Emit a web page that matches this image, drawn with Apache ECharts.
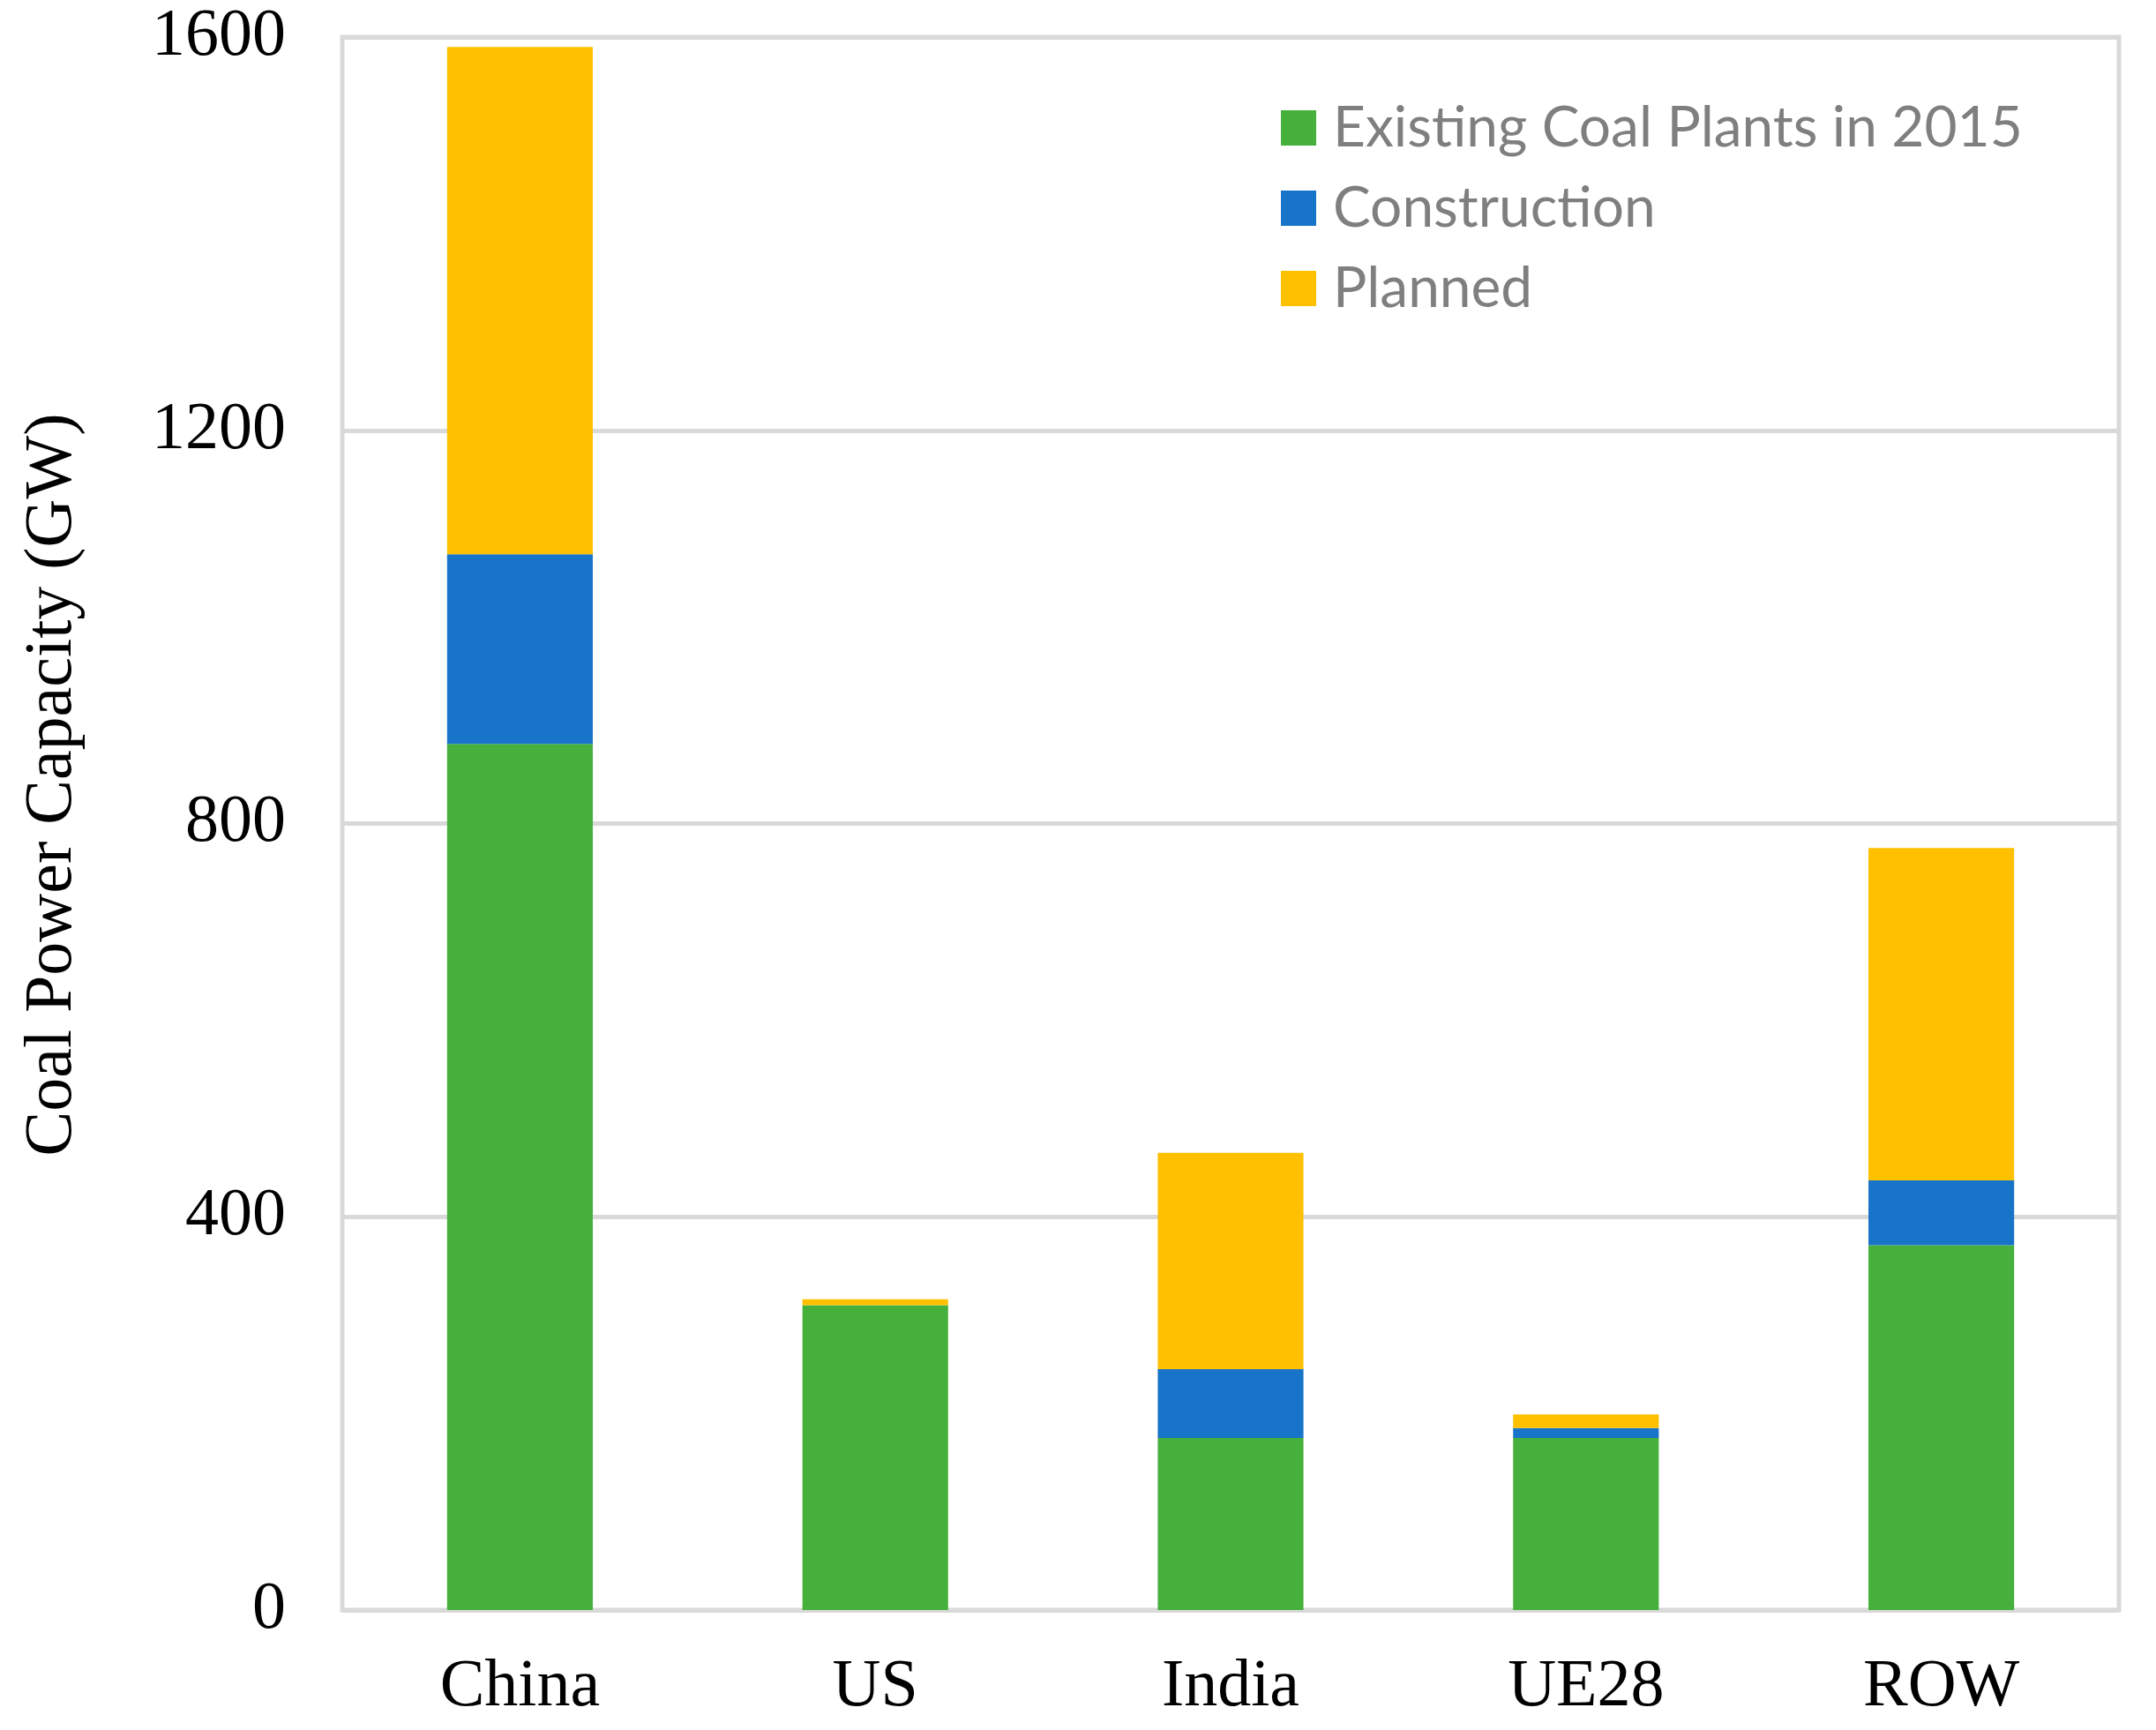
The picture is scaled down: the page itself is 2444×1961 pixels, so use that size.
<!DOCTYPE html>
<html>
<head>
<meta charset="utf-8">
<title>Coal Power Capacity</title>
<script src="https://cdn.jsdelivr.net/npm/echarts@6/dist/echarts.min.js"></script>
<style>
    html,body{margin:0;padding:0;background:#fff;}
    #chart{width:2444px;height:1961px;}
</style>
</head>
<body>
<div id="chart"></div>
<script>
    /*数据*/
    var regions = ['China', 'US', 'India', 'UE28', 'ROW'];
    var existing = [881, 310, 175, 175, 371];
    var construction = [193, 0, 70, 10, 66];
    var planned = [516, 6, 220, 14, 338];
    var yTicks = [0, 400, 800, 1200, 1600];

    var serif = 'Liberation Serif, Times New Roman, serif';
    var gridColor = '#d9d9d9';

    var chart = echarts.init(document.getElementById('chart'));
    var option = {
        backgroundColor: '#fff',
        animation: false,
        grid: {
            left: 388,
            right: 42,
            top: 42,
            bottom: 136,
            show: true,
            borderColor: gridColor,
            borderWidth: 5
        },
        legend: {
            orient: 'vertical',
            left: 1447,
            top: 108,
            itemWidth: 40,
            itemHeight: 40,
            itemGap: 27,
            icon: 'rect',
            data: ['Existing Coal Plants in 2015', 'Construction', 'Planned'],
            textStyle: {
                fontFamily: 'Lato, Open Sans, sans-serif',
                fontSize: 64,
                color: '#7f7f7f',
                lineHeight: 62,
                padding: [0, 0, 0, 14]
            }
        },
        xAxis: {
            type: 'category',
            data: regions,
            axisLine: {show: false},
            axisTick: {show: false},
            axisLabel: {
                fontFamily: serif,
                fontSize: 76,
                color: '#000',
                margin: 50
            }
        },
        yAxis: {
            type: 'value',
            min: yTicks[0],
            max: yTicks[yTicks.length - 1],
            interval: 400,
            name: 'Coal Power Capacity (GW)',
            nameLocation: 'middle',
            nameGap: 290,
            nameRotate: 90,
            nameTextStyle: {
                fontFamily: serif,
                fontSize: 76,
                color: '#000',
                padding: [0, 0, 0, 88]
            },
            axisLine: {show: false},
            axisTick: {show: false},
            axisLabel: {
                fontFamily: serif,
                fontSize: 76,
                color: '#000',
                margin: 64,
                formatter: function(v){ return String(v); }
            },
            splitLine: {
                lineStyle: {color: gridColor, width: 5}
            }
        },
        series: [
            {
                name: 'Existing Coal Plants in 2015',
                type: 'bar',
                stack: 'coal',
                barWidth: '41%',
                itemStyle: {color: '#45b03b'},
                data: existing
            },
            {
                name: 'Construction',
                type: 'bar',
                stack: 'coal',
                itemStyle: {color: '#1874c8'},
                data: construction
            },
            {
                name: 'Planned',
                type: 'bar',
                stack: 'coal',
                itemStyle: {color: '#ffc000'},
                data: planned
            }
        ]
    };
    chart.setOption(option);
</script>
</body>
</html>
